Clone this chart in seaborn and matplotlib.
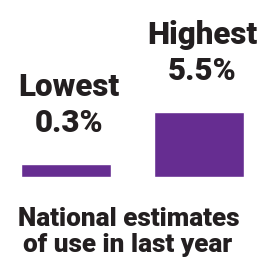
import numpy as np
import matplotlib
matplotlib.use("Agg")
import matplotlib.pyplot as plt
import seaborn as sns

# data
labels = ["Lowest", "Highest"]
values = [0.3, 5.5]
value_labels = ["0.3%", "5.5%"]
caption = ["National estimates", "of use in last year"]

purple = "#662d91"
ink = "#231f20"

sns.set_style("white")
plt.rcParams["font.family"] = ["Roboto", "DejaVu Sans"]

fig = plt.figure(figsize=(2.61, 2.62), dpi=100)
# bar area: baseline 85 px from bottom, tallest bar 65 px
ax = fig.add_axes([0, 85 / 262, 1, 65 / 262])

sns.barplot(x=labels, y=values, color=purple, saturation=1, width=0.68, ax=ax)

# compressed value scale so the small bar stays visible (like the original)
p = 0.553
ax.set_yscale("function", functions=(lambda y: np.sign(y) * np.abs(y) ** p,
                                     lambda y: np.sign(y) * np.abs(y) ** (1 / p)))
ax.set_ylim(0, max(values))
ax.set_xlim(-0.496, 1.466)
ax.axis("off")

for i, (name, v, vl) in enumerate(zip(labels, values, value_labels)):
    ax.annotate(vl, xy=(i, v), xytext=(3, 32), textcoords="offset pixels",
                ha="center", va="baseline", fontsize=22.5, fontweight="heavy",
                color=ink, annotation_clip=False)
    ax.annotate(name, xy=(i, v), xytext=(3, 68), textcoords="offset pixels",
                ha="center", va="baseline", fontsize=22.5, fontweight="heavy",
                color=ink, annotation_clip=False)

fig.text(128.5 / 261, 36 / 262, caption[0], ha="center", va="baseline",
         fontsize=18.8, fontweight="heavy", color=ink)
fig.text(128 / 261, 10 / 262, caption[1], ha="center", va="baseline",
         fontsize=18.8, fontweight="heavy", color=ink)

fig.savefig("out.png", dpi=100)
